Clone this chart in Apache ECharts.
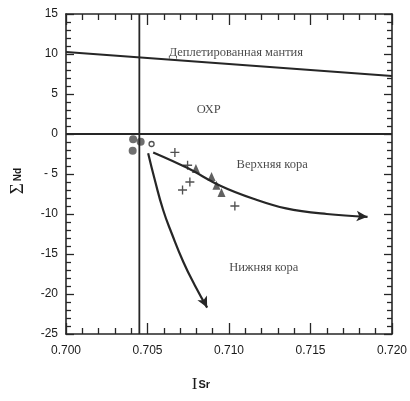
<!DOCTYPE html>
<html>
<head>
<meta charset="utf-8">
<script src="https://cdn.jsdelivr.net/npm/echarts@6/dist/echarts.min.js"></script>
<style>html,body{margin:0;padding:0;background:#fff}#c{width:410px;height:401px}</style>
</head>
<body>
<div id="c"></div>
<script>
// ---- data ----
const xMin = 0.700, xMax = 0.720, xStep = 0.005;
const yMin = -25, yMax = 15, yStep = 5;
const mantleLine = [[0.700, 10.25], [0.720, 7.25]];
const churLine = [[0.700, 0], [0.720, 0]];
const srLine = [[0.7045, 15], [0.7045, -25]];
const upperCrust = [[0.70535, -2.3], [0.7074, -4.2], [0.7095, -6.5], [0.7115, -8.1], [0.7135, -9.3], [0.7160, -10.0], [0.7185, -10.35]];
const lowerCrust = [[0.70504, -2.4], [0.70545, -5.75], [0.70596, -9.5], [0.7065, -12.5], [0.7072, -16.0], [0.7079, -18.9], [0.70866, -21.7]];
const filledCircles = [[0.70412, -0.66], [0.70458, -0.96], [0.70409, -2.1]];
const openCircles = [[0.70525, -1.25]];
const crosses = [[0.70668, -2.3], [0.70746, -3.9], [0.7076, -6.0], [0.70715, -7.0], [0.71036, -9.0]];
const triangles = [[0.70797, -4.3], [0.70893, -5.3], [0.70923, -6.4], [0.70954, -7.3]];
const annotationTexts = ['Деплетированная мантия', 'ОХР', 'Верхняя кора', 'Нижняя кора'];
const annotationAnchors = [[0.71042, 10.1], [0.70876, 3.0], [0.71265, -3.9], [0.71213, -16.75]];

// ---- chart ----
const ink = '#262626';
const chart = echarts.init(document.getElementById('c'), null, {renderer: 'canvas'});

function withArrow(points, rotate) {
  return points.map((p, i) => i === points.length - 1
    ? {value: p, symbol: 'arrow', symbolSize: [8, 11], symbolRotate: rotate}
    : {value: p});
}
function yFmt(v) {
  if (v < 0 && v > -10) return '- ' + Math.abs(v);
  return String(v);
}
function frameAxis(pos, min, max, interval, tickLen, minorLen) {
  return {
    type: 'value', position: pos, min: min, max: max, interval: interval,
    axisLine: {show: true, onZero: false, lineStyle: {color: ink, width: 1.6}},
    axisTick: {show: true, inside: true, length: tickLen, lineStyle: {color: ink, width: 1.3}},
    minorTick: {show: true, splitNumber: 5, length: minorLen, lineStyle: {color: ink, width: 1.3}},
    axisLabel: {show: false},
    splitLine: {show: false}
  };
}
const xMain = frameAxis('bottom', xMin, xMax, xStep, 11, 6);
xMain.axisLabel = {show: true, margin: 11, color: '#1a1a1a', fontSize: 12, fontFamily: 'Liberation Sans', formatter: v => v.toFixed(3)};
xMain.name = '{i|I}{s|Sr}';
xMain.nameLocation = 'middle';
xMain.nameGap = 42;
xMain.nameTextStyle = {
  padding: [0, 56, 0, 0],
  rich: {
    i: {fontSize: 17, fontFamily: 'Liberation Serif', color: '#1a1a1a'},
    s: {fontSize: 11, fontFamily: 'Liberation Sans', fontWeight: 'bold', color: '#1a1a1a', padding: [0, 0, 0, 1]}
  }
};
const yMain = frameAxis('left', yMin, yMax, yStep, 8, 5);
yMain.axisLabel = {show: true, margin: 8, color: '#1a1a1a', fontSize: 12, fontFamily: 'Liberation Sans', formatter: yFmt};
yMain.name = '{a|Σ}{b|Nd}';
yMain.nameLocation = 'middle';
yMain.nameGap = 38;
yMain.nameRotate = 90;
yMain.nameTextStyle = {
  padding: [0, 14, 0, 0],
  rich: {
    a: {fontSize: 19, fontFamily: 'Liberation Serif', color: '#1a1a1a'},
    b: {fontSize: 10, fontFamily: 'Liberation Sans', fontWeight: 'bold', color: '#1a1a1a', padding: [0, 0, 0, 2]}
  }
};

const option = {
  backgroundColor: '#fff',
  animation: false,
  grid: {left: 66, right: 17, top: 14, bottom: 67},
  xAxis: [xMain, frameAxis('top', xMin, xMax, xStep, 11, 6)],
  yAxis: [yMain, frameAxis('right', yMin, yMax, yStep, 8, 5)],
  series: [
    {type: 'line', data: mantleLine, symbol: 'none', lineStyle: {color: ink, width: 2}},
    {type: 'line', data: churLine, symbol: 'none', lineStyle: {color: ink, width: 2}},
    {type: 'line', data: srLine, symbol: 'none', lineStyle: {color: ink, width: 1.8}},
    {type: 'line', data: withArrow(upperCrust, -94), smooth: 0.4, symbol: 'none', showSymbol: true,
     lineStyle: {color: ink, width: 2.2}, itemStyle: {color: ink}},
    {type: 'line', data: withArrow(lowerCrust, -153), smooth: 0.5, symbol: 'none', showSymbol: true,
     lineStyle: {color: ink, width: 2.2}, itemStyle: {color: ink}},
    {type: 'scatter', data: filledCircles, symbol: 'circle', symbolSize: 8, itemStyle: {color: '#4a4a4a'}},
    {type: 'scatter', data: openCircles, symbol: 'circle', symbolSize: 5, itemStyle: {color: '#fff', borderColor: ink, borderWidth: 1.3}},
    {type: 'scatter', data: crosses, symbol: 'path://M3.4,0h1.2v3.4h3.4v1.2h-3.4v3.4h-1.2v-3.4h-3.4v-1.2h3.4z', symbolSize: 9, itemStyle: {color: ink}},
    {type: 'scatter', data: triangles, symbol: 'triangle', symbolSize: [8, 9], itemStyle: {color: '#3a3a3a'}},
    {type: 'scatter', symbolSize: 1, itemStyle: {color: 'transparent'},
     data: annotationTexts.map((t, i) => ({name: t, value: annotationAnchors[i]})),
     label: {show: true, position: 'inside', formatter: '{b}', color: '#1a1a1a', fontFamily: 'Liberation Serif', fontSize: 12.5},
     emphasis: {disabled: true}, silent: true}
  ]
};
chart.setOption(option);
</script>
</body>
</html>
